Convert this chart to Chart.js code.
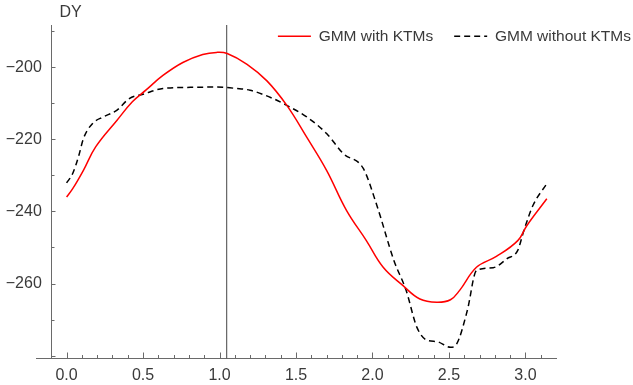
<!DOCTYPE html>
<html><head><meta charset="utf-8">
<script src="https://cdn.jsdelivr.net/npm/chart.js@4.4.1/dist/chart.umd.min.js"></script>
<style>html,body{margin:0;padding:0;background:#fff}#wrap{width:633px;height:385px;position:relative}</style>
</head><body><div id="wrap"><canvas id="c" width="633" height="385"></canvas></div>
<script>
// ---- data ----
const redX = [0.00, 0.04, 0.11, 0.19, 0.33, 0.43, 0.52, 0.63, 0.76, 0.89, 0.98, 1.05, 1.18, 1.31, 1.44, 1.57, 1.70, 1.83, 1.96, 2.07, 2.20, 2.31, 2.42, 2.51, 2.57, 2.68, 2.81, 2.95, 3.01, 3.14];
const redY = [-236.0, -233.7, -228.6, -222.1, -214.7, -209.6, -206.3, -202.3, -198.7, -196.5, -195.9, -196.2, -199.2, -203.8, -210.6, -219.4, -228.6, -239.7, -248.1, -255.5, -260.6, -264.3, -265.2, -264.5, -261.9, -255.5, -252.5, -248.1, -243.9, -236.5];
const blackX = [0.00, 0.04, 0.08, 0.11, 0.17, 0.24, 0.33, 0.41, 0.50, 0.63, 0.81, 0.98, 1.11, 1.20, 1.35, 1.44, 1.57, 1.70, 1.81, 1.94, 2.03, 2.14, 2.22, 2.29, 2.36, 2.42, 2.51, 2.55, 2.62, 2.68, 2.79, 2.88, 2.95, 2.99, 3.05, 3.14];
const blackY = [-232.1, -229.5, -224.5, -219.8, -215.6, -213.8, -211.9, -208.7, -207.5, -205.9, -205.6, -205.5, -205.9, -206.4, -208.7, -210.6, -213.8, -218.4, -224.0, -228.1, -238.5, -253.6, -261.9, -272.1, -275.8, -276.1, -277.7, -276.8, -267.5, -256.4, -255.6, -253.1, -250.8, -245.3, -238.3, -232.3];
const markerX = [1.047];
const seriesNames = ['GMM with KTMs', 'GMM without KTMs'];
const xTickValues = [0, 0.5, 1.0, 1.5, 2.0, 2.5, 3.0];
const yTickValues = [-260, -240, -220, -200];
const axisTitle = 'DY';

const X_MIN = -0.2, X_MAX = 3.2, Y_MIN = -280.8, Y_MAX = -188.3;
const Y_AXIS_AT = -0.1, Y_LABEL_AT = -0.162;
const FONT = '"Liberation Sans", Arial, Helvetica, sans-serif';
const TEXT = '#3a3a3a';
const AXIS = '#6a6a6a';

const pts = (xs, ys) => xs.map((x, i) => ({x, y: ys[i]}));

const legendPlace = {
  id: 'legendPlace',
  beforeLayout(chart) {
    const lg = chart.legend;
    if (lg && !lg.__p) {
      const f = lg.fit;
      lg.fit = function () { f.call(this); this.__h = this.height; this.height = 0; };
      lg.__p = true;
    }
  },
  afterLayout(chart) {
    const lg = chart.legend; if (!lg) return;
    const h = lg.__h || 40;
    lg.top = 7.5; lg.bottom = 7.5 + h; lg.height = h;
    lg.left = 0; lg.right = 652; lg.width = 652;
  }
};

const axisDecor = {
  id: 'axisDecor',
  afterDraw(chart) {
    const {ctx, scales: {x, y}} = chart;
    const y0 = y.bottom;
    const ax = Math.round(x.getPixelForValue(Y_AXIS_AT)) + 0.5;
    ctx.save();
    ctx.strokeStyle = AXIS; ctx.lineWidth = 1;
    ctx.beginPath();
    for (let i = -1; i <= 31; i++) {
      const px = Math.round(x.getPixelForValue(i / 10)) + 0.5;
      const len = (i % 5 === 0) ? 6 : 3.5;
      ctx.moveTo(px, y0); ctx.lineTo(px, y0 - len);
    }
    for (let j = -28; j <= -19; j++) {
      const py = Math.round(y.getPixelForValue(j * 10)) + 0.5;
      const len = (j % 2 === 0) ? 4 : 3;
      ctx.moveTo(ax, py); ctx.lineTo(ax + len, py);
    }
    ctx.stroke();
    ctx.fillStyle = TEXT; ctx.font = '16px ' + FONT;
    ctx.textBaseline = 'middle'; ctx.textAlign = 'left';
    ctx.fillText(axisTitle, ax + 8, 13);
    ctx.restore();
  }
};

new Chart(document.getElementById('c'), {
  type: 'line',
  data: {
    datasets: [
      { label: seriesNames[0], data: pts(redX, redY), borderColor: '#ff0000', backgroundColor: 'transparent',
        borderWidth: 1.5, pointRadius: 0, tension: 0.4, fill: false },
      { label: seriesNames[1], data: pts(blackX, blackY), borderColor: '#000000', backgroundColor: 'transparent',
        borderWidth: 1.5, borderDash: [6, 4], pointRadius: 0, cubicInterpolationMode: 'monotone', fill: false },
      { label: 'marker', data: [{x: markerX[0], y: Y_MIN}, {x: markerX[0], y: Y_MAX}], borderColor: '#444',
        backgroundColor: 'transparent', borderWidth: 1, pointRadius: 0, tension: 0, fill: false }
    ]
  },
  options: {
    responsive: false, animation: false, events: [],
    layout: { padding: { left: 36, right: 77, top: 25, bottom: 0 } },
    plugins: {
      tooltip: { enabled: false },
      legend: {
        display: true, position: 'top', align: 'end',
        labels: {
          boxWidth: 33, boxHeight: 0, padding: 21, color: TEXT,
          font: { size: 15.5, family: FONT },
          filter: (item) => item.datasetIndex < 2
        }
      }
    },
    scales: {
      x: {
        type: 'linear', min: X_MIN, max: X_MAX, position: 'bottom',
        grid: { display: false, drawTicks: false },
        border: { display: true, color: AXIS, width: 1 },
        ticks: { padding: 7, color: TEXT, font: { size: 16, family: FONT }, autoSkip: false, maxRotation: 0,
          callback: (v) => Number(v).toFixed(1) },
        afterBuildTicks: (s) => { s.ticks = xTickValues.map(v => ({value: v})); },
        afterFit: (s) => { s.height = 26.5; }
      },
      y: {
        type: 'linear', axis: 'y', min: Y_MIN, max: Y_MAX, position: { x: Y_AXIS_AT },
        grid: { display: false, drawTicks: false },
        border: { display: true, color: AXIS, width: 1 },
        ticks: { display: false }
      },
      yLbl: {
        type: 'linear', axis: 'y', min: Y_MIN, max: Y_MAX, position: { x: Y_LABEL_AT },
        grid: { display: false, drawTicks: false },
        border: { display: false },
        ticks: { padding: 0, color: TEXT, font: { size: 16, family: FONT }, autoSkip: false,
          callback: (v) => (v < 0 ? '\u2212' + Math.abs(v) : String(v)) },
        afterBuildTicks: (s) => { s.ticks = yTickValues.map(v => ({value: v})); }
      }
    }
  },
  plugins: [legendPlace, axisDecor]
});
</script>
</body></html>
